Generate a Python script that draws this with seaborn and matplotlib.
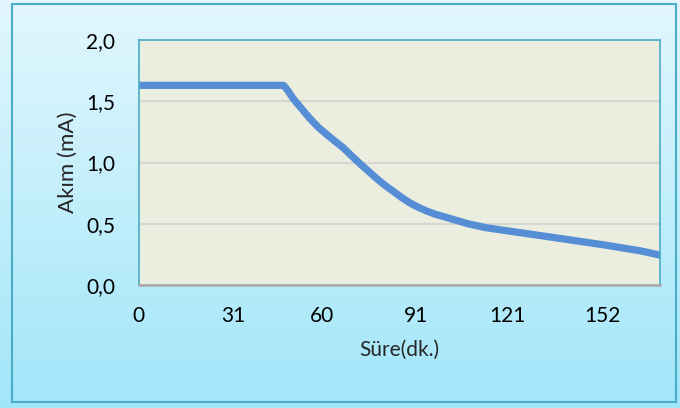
import numpy as np
import pandas as pd
import matplotlib
matplotlib.use('Agg')
import matplotlib.pyplot as plt
import matplotlib.patches as patches
import seaborn as sns

# okunan degerler (dakika, mA)
sure = [0, 10, 20, 30, 40, 47.5, 48.8, 50.7, 53.4, 56.1, 58.8, 61.6, 64.3,
        67.1, 69.8, 72.6, 75.3, 78.0, 80.7, 83.5, 86.2, 89.0, 91.7, 94.4,
        97.1, 99.9, 102.6, 105.4, 108.1, 110.9, 113.6, 116.3, 121.8, 131.6,
        142.6, 153.5, 164.5, 171]
akim = [1.63, 1.63, 1.63, 1.63, 1.63, 1.63, 1.59, 1.52, 1.44, 1.36, 1.29,
        1.23, 1.175, 1.12, 1.055, 0.99, 0.93, 0.87, 0.815, 0.765, 0.715,
        0.67, 0.635, 0.605, 0.58, 0.56, 0.54, 0.52, 0.50, 0.485, 0.47,
        0.46, 0.44, 0.405, 0.365, 0.325, 0.28, 0.245]
x_ticks = [0, 31, 60, 91, 121, 152]
y_ticks = [0.0, 0.5, 1.0, 1.5, 2.0]
y_labels = ["0,0", "0,5", "1,0", "1,5", "2,0"]

df = pd.DataFrame({"sure": sure, "akim": akim})

sns.set_style("white")
plt.rcParams['font.family'] = ['Lato', 'DejaVu Sans']

fig = plt.figure(figsize=(6.8, 4.08), dpi=100)

# arka plan gradyani
bg = fig.add_axes([0, 0, 1, 1], zorder=-10)
grad = np.linspace(0, 1, 256).reshape(-1, 1)
cmap = matplotlib.colors.LinearSegmentedColormap.from_list(
    "bg", ["#E2F7FD", "#A2E6FA"])
bg.imshow(grad, aspect='auto', cmap=cmap, extent=[0, 1, 0, 1], origin='upper')
bg.set_axis_off()
fig.patches.append(patches.Rectangle(
    (0.018, 0.015), 0.976, 0.975, transform=fig.transFigure,
    fill=False, edgecolor='#4BACC6', linewidth=1.5))

ax = fig.add_axes([0.204, 0.301, 0.767, 0.601])
ax.set_facecolor('#EBEEDE')
sns.lineplot(data=df, x='sure', y='akim', ax=ax, color='#558ED5', linewidth=5.2)

ax.set_xlim(0, 171)
ax.set_ylim(0, 2.0)
ax.set_xticks(x_ticks)
ax.set_yticks(y_ticks)
ax.set_yticklabels(y_labels)
ax.yaxis.grid(True, color='#D6D6D6', linewidth=1.5)
ax.set_axisbelow(True)
ax.tick_params(axis='both', length=0, labelsize=15, colors='black')
ax.tick_params(axis='y', pad=17)
ax.tick_params(axis='x', pad=15)

for s in ['left', 'right', 'top']:
    ax.spines[s].set_color('#4BACC6')
    ax.spines[s].set_linewidth(1.2)
ax.spines['bottom'].set_color('#A8A8A8')
ax.spines['bottom'].set_linewidth(1.8)

ax.set_xlabel("Süre(dk.)", fontsize=15, labelpad=10)
ax.set_ylabel("Akım (mA)", fontsize=16, labelpad=6)

plt.savefig("out.png", dpi=100)
